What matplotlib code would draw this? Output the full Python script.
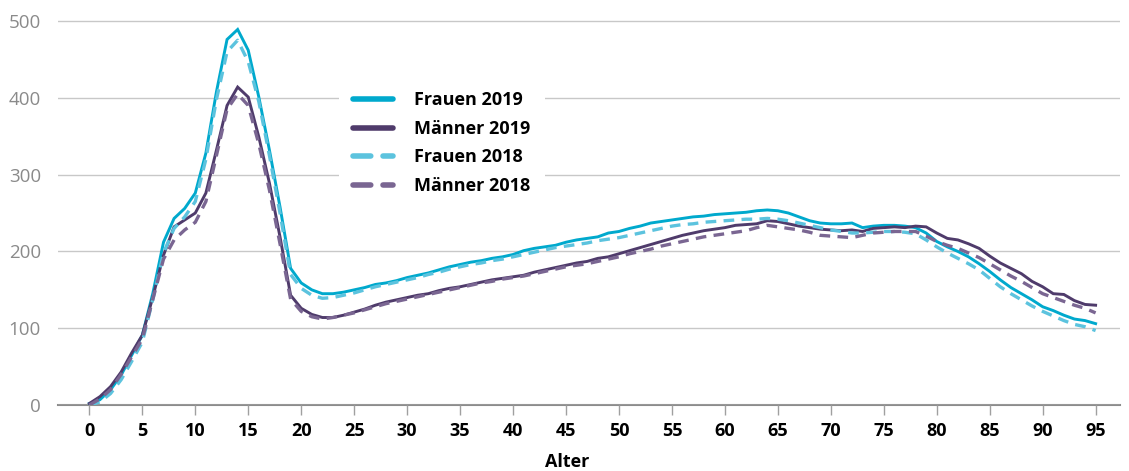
import numpy as np
import matplotlib
matplotlib.use("Agg")
import matplotlib.pyplot as plt

plt.rcParams['font.family'] = ['Open Sans', 'DejaVu Sans']

# Alter 0..95
alter = list(range(0, 96))

frauen_2019 = [2, 7, 20, 39, 65, 91, 146, 212, 243, 256,
               276, 328, 408, 476, 489, 462, 401, 332, 258, 178,
               159, 150, 145, 145, 147, 150, 153, 157, 159, 162,
               166, 169, 172, 176, 180, 183, 186, 188, 191, 193,
               196, 201, 204, 206, 208, 212, 215, 217, 219, 224,
               226, 230, 233, 237, 239, 241, 243, 245, 246, 248,
               249, 250, 251, 253, 254, 253, 250, 245, 240, 237,
               236, 236, 237, 231, 233, 234, 234, 233, 231, 224,
               213, 206, 200, 193, 184, 174, 163, 153, 145, 137,
               128, 123, 117, 112, 110, 106]

maenner_2019 = [2, 11, 24, 43, 68, 91, 141, 195, 232, 241,
                250, 276, 332, 390, 414, 401, 349, 289, 219, 143,
                126, 118, 114, 114, 117, 121, 125, 130, 134, 137,
                140, 143, 145, 149, 152, 154, 157, 160, 163, 165,
                167, 169, 173, 176, 179, 182, 185, 187, 191, 193,
                197, 201, 205, 209, 213, 217, 221, 224, 227, 229,
                231, 234, 235, 236, 240, 239, 236, 233, 231, 229,
                228, 227, 228, 226, 230, 231, 232, 231, 233, 232,
                224, 217, 215, 210, 204, 194, 185, 178, 171, 161,
                154, 145, 144, 136, 131, 130]

frauen_2018 = [0, 4, 15, 33, 57, 82, 138, 198, 230, 245,
               265, 320, 398, 460, 475, 447, 395, 325, 250, 170,
               152, 143, 139, 140, 143, 146, 150, 154, 157, 160,
               163, 166, 170, 173, 177, 180, 183, 185, 188, 190,
               193, 196, 199, 202, 205, 207, 209, 211, 214, 216,
               218, 221, 224, 227, 230, 233, 235, 236, 238, 239,
               240, 241, 242, 242, 243, 242, 240, 237, 234, 231,
               228, 226, 224, 224, 225, 226, 226, 225, 223, 215,
               206, 198, 191, 184, 176, 165, 154, 145, 137, 129,
               122, 116, 110, 105, 102, 97]

maenner_2018 = [0, 8, 20, 40, 63, 86, 138, 190, 215, 228,
                238, 265, 325, 385, 405, 390, 340, 280, 210, 138,
                122, 115, 112, 114, 117, 120, 124, 128, 132, 135,
                138, 141, 144, 147, 150, 153, 156, 159, 161, 164,
                166, 168, 171, 174, 177, 180, 182, 184, 187, 190,
                193, 197, 200, 203, 207, 210, 213, 216, 219, 221,
                223, 225, 227, 231, 234, 232, 230, 228, 225, 221,
                220, 219, 218, 221, 224, 225, 226, 226, 226, 220,
                213, 208, 204, 198, 192, 184, 176, 168, 161, 153,
                145, 140, 135, 130, 126, 120]

x_ticks = list(range(0, 96, 5))
y_ticks = [0, 100, 200, 300, 400, 500]

c_f19 = '#00a9cd'
c_m19 = '#4f3b6b'
c_f18 = '#5cc3de'
c_m18 = '#7a6692'

fig = plt.figure(figsize=(11.29, 4.71), dpi=100)
ax = fig.add_axes([0.051, 0.140, 0.941, 0.8235])

ax.plot(alter, frauen_2019, color=c_f19, lw=2.1, label='Frauen 2019',
        solid_joinstyle='miter')
ax.plot(alter, maenner_2019, color=c_m19, lw=2.1, label='Männer 2019',
        solid_joinstyle='miter')
ax.plot(alter, frauen_2018, color=c_f18, lw=2.4, ls=(0, (3.2, 2.2)),
        label='Frauen 2018')
ax.plot(alter, maenner_2018, color=c_m18, lw=2.4, ls=(0, (3.2, 2.2)),
        label='Männer 2018')

ax.set_xlim(-3, 97.3)
ax.set_ylim(0, 505)
ax.set_xticks(x_ticks)
ax.set_yticks(y_ticks)
ax.grid(axis='y', color='#c8c8c8', lw=1.0)
ax.set_axisbelow(True)

for s in ['top', 'right', 'left']:
    ax.spines[s].set_visible(False)
ax.spines['bottom'].set_color('#8c8c8c')
ax.spines['bottom'].set_linewidth(1.5)
ax.spines['bottom'].set_zorder(0.5)

ax.tick_params(axis='x', length=7, width=1, color='#a0a0a0', pad=5,
               labelsize=13, labelcolor='black')
for lab in ax.get_xticklabels():
    lab.set_fontweight('bold')
ax.tick_params(axis='y', length=0, pad=12, labelsize=13.5, labelcolor='#8a8a8a')

fig.text(567 / 1129, 1 - 462 / 471, 'Alter', ha='center', va='center',
         fontsize=13, fontweight='bold')

leg = ax.legend(loc='upper left', frameon=True, handlelength=2.2,
                handletextpad=1.15, labelspacing=0.58, borderpad=0.8,
                prop={'weight': 'bold', 'size': 13})
leg.set_bbox_to_anchor((330 / 1129, 1 - 68 / 471), transform=fig.transFigure)
frame = leg.get_frame()
frame.set_facecolor('white')
frame.set_edgecolor('none')
frame.set_alpha(1.0)
for line in leg.get_lines():
    line.set_linewidth(4.0)
    line.set_solid_capstyle('round')
    line.set_dash_capstyle('round')

fig.savefig('out.png', dpi=100)
